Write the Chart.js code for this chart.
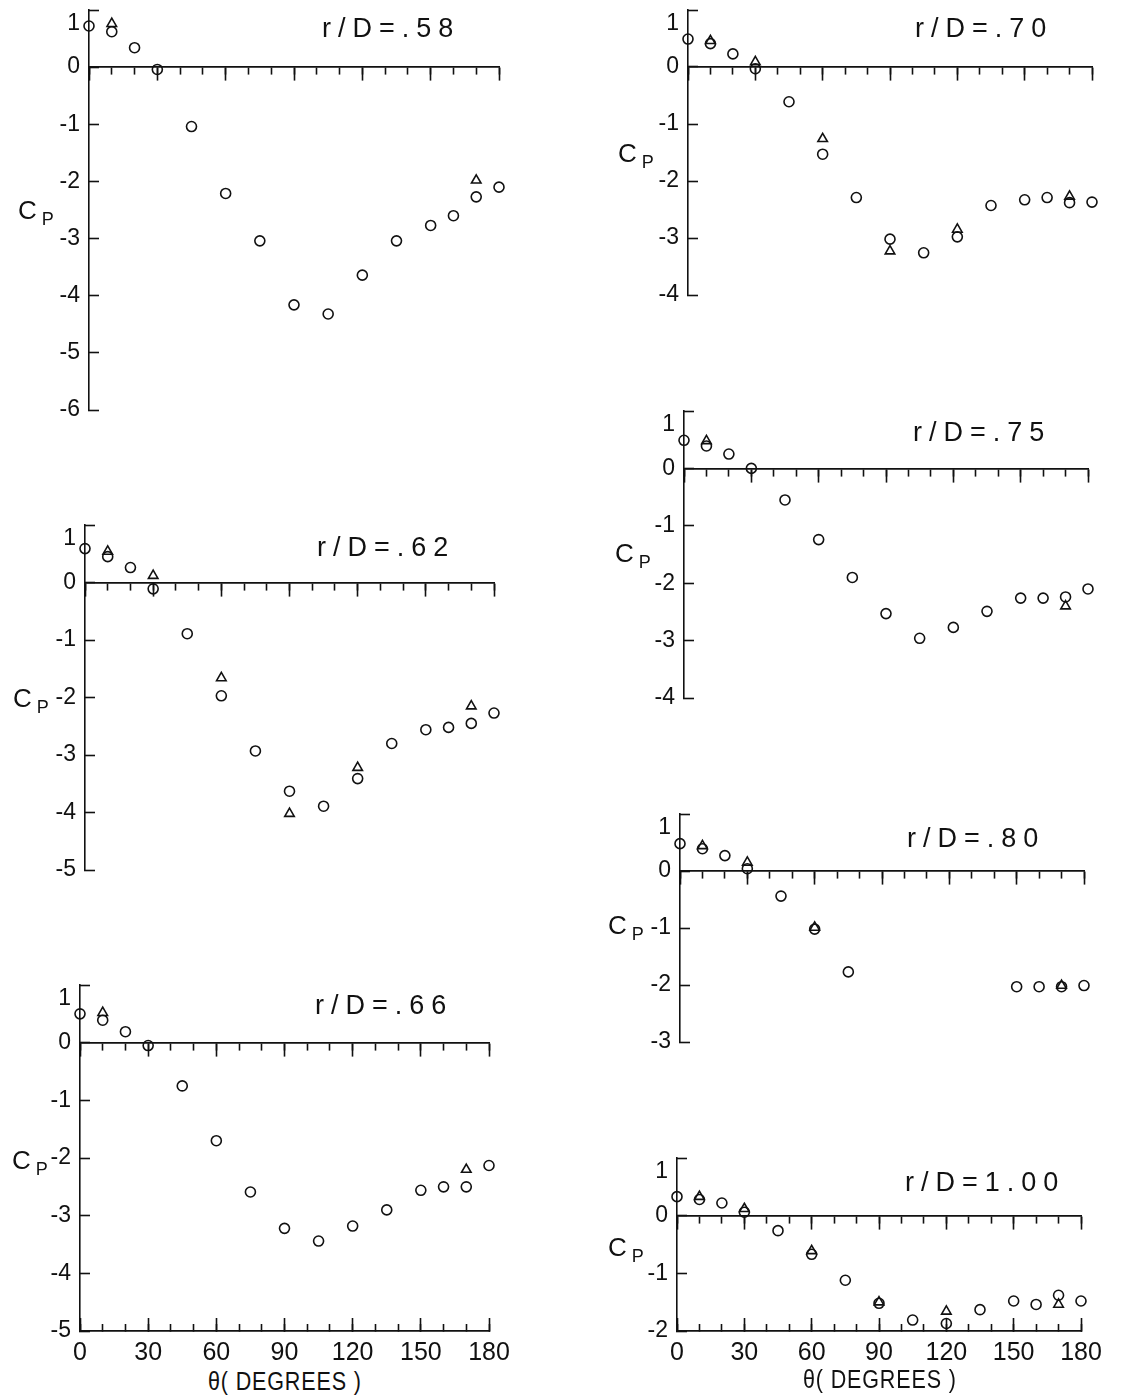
<!DOCTYPE html>
<html>
<head>
<meta charset="utf-8">
<script src="https://cdn.jsdelivr.net/npm/chart.js@4.4.0/dist/chart.umd.min.js"></script>
<style>
  html, body { margin: 0; padding: 0; background: #fff; }
  body { position: relative; width: 1139px; height: 1396px; overflow: hidden; }
  canvas { position: absolute; }
  .txt {
    position: absolute; white-space: nowrap; line-height: 1; color: #111;
    font-family: "Liberation Sans", Arial, sans-serif;
    transform-origin: left top;
  }
  .title { font-size: 27px; letter-spacing: 7px; }
  .cp { font-size: 26px; }
  .cp sub { font-size: 18px; vertical-align: -6px; margin-left: 5px; }
  .xt { font-size: 25px; letter-spacing: 1px; transform: scaleX(0.86); }
</style>
</head>
<body>
<script>
// Angles (degrees) used by most stations
const theta = [0, 10, 20, 30, 45, 60, 75, 90, 105, 120, 135, 150, 160, 170, 180];
const thetaTri = [10, 30, 60, 90, 120, 170];
const thetaTriEnds = [10, 170];
const theta80 = [0, 10, 20, 30, 45, 60, 75, 150, 160, 170, 180];
const theta80Tri = [10, 30, 60, 170];

// Cp values, circles and triangles
const cp58 = [0.72, 0.62, 0.34, -0.04, -1.04, -2.21, -3.04, -4.16, -4.32, -3.64, -3.04, -2.77, -2.60, -2.27, -2.10];
const cp58Tri = [0.76, -1.98];
const cp62 = [0.59, 0.45, 0.26, -0.11, -0.89, -1.97, -2.93, -3.63, -3.89, -3.41, -2.80, -2.56, -2.52, -2.45, -2.27];
const cp62Tri = [0.54, 0.12, -1.66, -4.02, -3.22, -2.15];
const cp66 = [0.50, 0.39, 0.19, -0.05, -0.75, -1.70, -2.59, -3.22, -3.44, -3.18, -2.90, -2.56, -2.50, -2.50, -2.13];
const cp66Tri = [0.52, -2.20];
const cp70 = [0.49, 0.41, 0.23, -0.03, -0.61, -1.53, -2.29, -3.02, -3.26, -2.98, -2.43, -2.33, -2.29, -2.38, -2.37];
const cp70Tri = [0.46, 0.09, -1.26, -3.23, -2.85, -2.27];
const cp75 = [0.49, 0.39, 0.25, 0.00, -0.55, -1.24, -1.90, -2.53, -2.96, -2.77, -2.49, -2.26, -2.26, -2.24, -2.10];
const cp75Tri = [0.48, -2.40];
const cp80 = [0.48, 0.39, 0.27, 0.04, -0.44, -1.02, -1.77, -2.03, -2.03, -2.03, -2.01];
const cp80Tri = [0.44, 0.15, -0.99, -2.01];
const cp100 = [0.33, 0.28, 0.22, 0.06, -0.26, -0.67, -1.12, -1.52, -1.81, -1.87, -1.63, -1.48, -1.54, -1.38, -1.48];
const cp100Tri = [0.33, 0.12, -0.61, -1.50, -1.66, -1.54];

// Tick values
const xMinorStep = 10;
const xMajorStep = 30;
const yStep = 1;

const FONT = '"Liberation Sans", Arial, sans-serif';
const INK = '#111';

// Panel layout: chart area [left, top, right, bottom] in page pixels
const panels = [
  { name: 'r/D=.58', ct: theta, cc: cp58, tt: thetaTriEnds, tc: cp58Tri, yMin: -6, area: [89, 10, 499, 410], title: [322, 15], cp: [18, 197] },
  { name: 'r/D=.62', ct: theta, cc: cp62, tt: thetaTri, tc: cp62Tri, yMin: -5, area: [85, 525, 494, 870], title: [317, 534], cp: [13, 685] },
  { name: 'r/D=.66', ct: theta, cc: cp66, tt: thetaTriEnds, tc: cp66Tri, yMin: -5, area: [80, 985, 489, 1331], title: [315, 992], cp: [12, 1147], bottom: true, xt: [208, 1369] },
  { name: 'r/D=.70', ct: theta, cc: cp70, tt: thetaTri, tc: cp70Tri, yMin: -4, area: [688, 10, 1092, 295], title: [915, 15], cp: [618, 140] },
  { name: 'r/D=.75', ct: theta, cc: cp75, tt: thetaTriEnds, tc: cp75Tri, yMin: -4, area: [684, 411, 1088, 698], title: [913, 419], cp: [615, 540] },
  { name: 'r/D=.80', ct: theta80, cc: cp80, tt: theta80Tri, tc: cp80Tri, yMin: -3, area: [680, 814, 1084, 1042], title: [907, 825], cp: [608, 912] },
  { name: 'r/D=1.00', ct: theta, cc: cp100, tt: thetaTri, tc: cp100Tri, yMin: -2, area: [677, 1158, 1081, 1331], title: [905, 1169], cp: [608, 1234], bottom: true, xt: [803, 1367] }
];

const PAD_LEFT = 80;
const PAD_RIGHT = 30;
const PAD_TOP = 14;
const PAD_BOTTOM = 36;

// Give a scale a fixed box size, so the chart area lands where we want it
function fixedSize(size) {
  return function (scale) {
    if (scale.isHorizontal()) scale.height = size; else scale.width = size;
    scale.paddingLeft = scale.paddingRight = scale.paddingTop = scale.paddingBottom = 0;
  };
}

const border = { display: true, color: INK, width: 1.6 };

function axisAtZero(step, len) {
  return {
    type: 'linear', min: 0, max: 180, position: { y: 0 },
    afterFit: fixedSize(0),
    border: border,
    grid: { drawOnChartArea: false, tickLength: len, tickWidth: 1.6, tickColor: INK },
    ticks: { stepSize: step, display: false }
  };
}

function axisAtBottom(step, len, labels, weight) {
  return {
    type: 'linear', min: 0, max: 180, position: 'bottom', weight: weight,
    afterFit: fixedSize(labels ? PAD_BOTTOM : 0),
    border: border,
    grid: { drawOnChartArea: false, tickLength: -len, tickWidth: 1.6, tickColor: INK },
    ticks: {
      stepSize: step, display: labels, padding: len + 7, maxRotation: 0, autoSkip: false,
      color: INK, font: { family: FONT, size: 25 }
    }
  };
}

function addText(cls, html, pos) {
  const el = document.createElement('div');
  el.className = 'txt ' + cls;
  el.innerHTML = html;
  el.style.left = pos[0] + 'px';
  el.style.top = pos[1] + 'px';
  document.body.appendChild(el);
}

// Draw one panel of the figure
function renderPanel(p) {
  const [L, T, R, B] = p.area;
  const canvas = document.createElement('canvas');
  canvas.width = R - L + PAD_LEFT + PAD_RIGHT;
  canvas.height = B - T + PAD_TOP + PAD_BOTTOM;
  canvas.style.left = (L - PAD_LEFT) + 'px';
  canvas.style.top = (T - PAD_TOP) + 'px';
  document.body.appendChild(canvas);

  const scales = {
    x: axisAtZero(xMinorStep, 7),
    xMajor: axisAtZero(xMajorStep, 13),
    y: {
      type: 'linear', min: p.yMin, max: 1, position: 'left',
      afterFit: fixedSize(PAD_LEFT),
      border: border,
      grid: { drawOnChartArea: false, tickLength: -10, tickWidth: 1.6, tickColor: INK },
      ticks: {
        stepSize: yStep, padding: 19, autoSkip: false, color: INK, font: { family: FONT, size: 23 },
        // the top label sits a little under its tick in the original
        callback: v => (v === 1 ? ['', '1'] : String(v))
      }
    }
  };
  if (p.bottom) {
    scales.xBottom = axisAtBottom(xMinorStep, 7, false, 0);
    scales.xBottomMajor = axisAtBottom(xMajorStep, 13, true, 1);
  }

  const marker = { borderColor: INK, backgroundColor: 'rgba(0,0,0,0)', borderWidth: 1.6, pointBorderWidth: 1.6, clip: false };

  new Chart(canvas, {
    type: 'scatter',
    data: {
      datasets: [
        Object.assign({ label: 'circle', data: p.ct.map((t, i) => ({ x: t, y: p.cc[i] })), pointStyle: 'circle', pointRadius: 5 }, marker),
        Object.assign({ label: 'triangle', data: p.tt.map((t, i) => ({ x: t, y: p.tc[i] })), pointStyle: 'triangle', pointRadius: 5.5 }, marker)
      ]
    },
    options: {
      responsive: false,
      animation: false,
      events: [],
      layout: { padding: { left: 0, right: PAD_RIGHT, top: PAD_TOP, bottom: p.bottom ? 0 : PAD_BOTTOM } },
      scales: scales,
      plugins: { legend: { display: false }, tooltip: { enabled: false }, title: { display: false } }
    }
  });

  addText('title', p.name, p.title);
  addText('cp', 'C<sub>P</sub>', p.cp);
  if (p.xt) addText('xt', '&theta;( DEGREES )', p.xt);
}

panels.forEach(renderPanel);
</script>
</body>
</html>
